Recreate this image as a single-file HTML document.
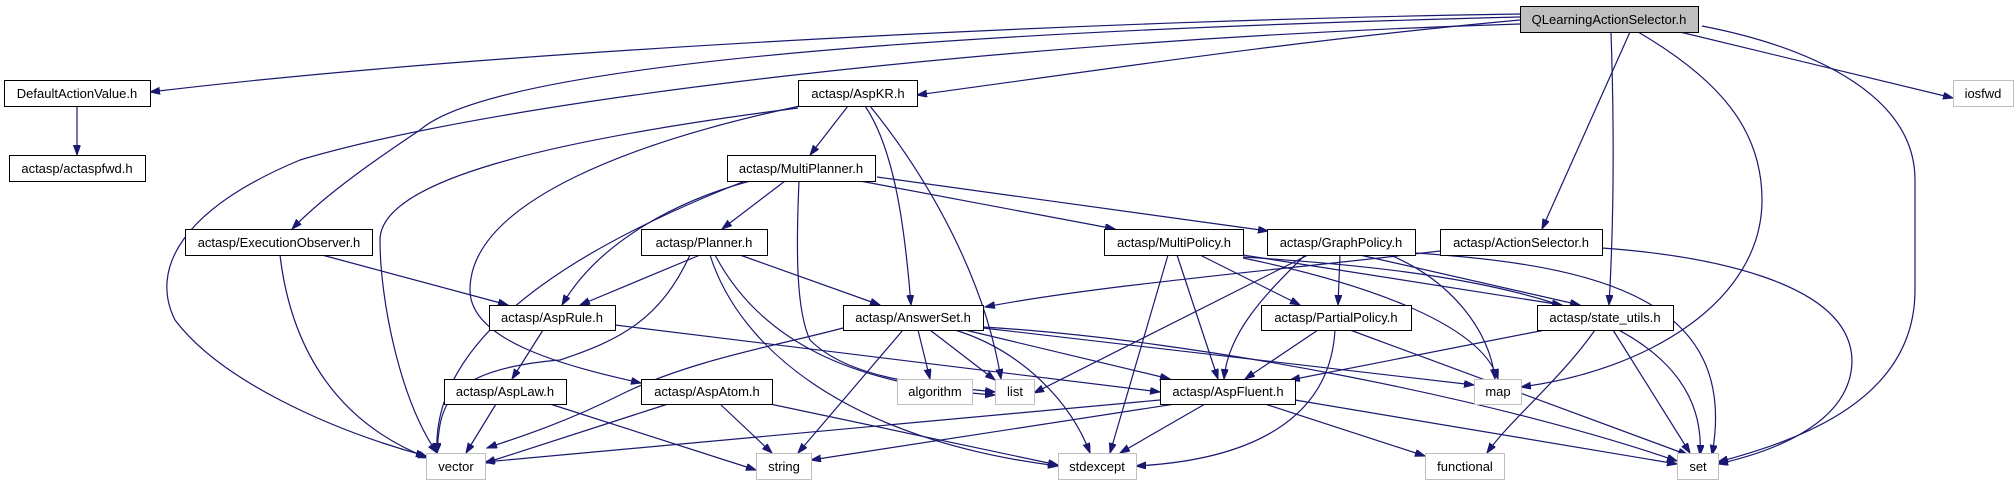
<!DOCTYPE html>
<html><head><meta charset="utf-8"><style>
html,body{margin:0;padding:0;background:#fff;}
svg{display:block;}
text{font-family:"Liberation Sans",sans-serif;font-size:13px;text-anchor:middle;fill:#000;}
.e{fill:none;stroke:#191970;stroke-width:1.2;marker-end:url(#a);}
.n{fill:#fff;stroke:#000;stroke-width:1;}
.g{fill:#fff;stroke:#bfbfbf;stroke-width:1;}
</style></head><body>
<svg width="2016" height="485" viewBox="0 0 2016 485" xmlns="http://www.w3.org/2000/svg">
<defs><marker id="a" markerUnits="userSpaceOnUse" markerWidth="11" markerHeight="8" refX="10" refY="3.5" orient="auto"><path d="M0,0 L10,3.5 L0,7 z" fill="#191970" stroke="#191970"/></marker></defs>
<!-- edges from QLearning -->
<path class="e" d="M1520,14 C1100,20 500,50 150,92"/>
<path class="e" d="M1520,17 C1000,30 500,60 420,130 C360,170 320,200 292,229"/>
<path class="e" d="M1520,20 C1300,40 1100,70 917,95"/>
<path class="e" d="M1520,24 C1000,40 500,100 300,160 C180,210 150,270 175,320 C220,380 330,430 426,456"/>
<path class="e" d="M1630,32 L1542,229"/>
<path class="e" d="M1611,32 C1614,120 1614,220 1609,305"/>
<path class="e" d="M1680,32 L1953,98"/>
<path class="e" d="M1638,32 C1720,80 1762,130 1762,200 C1762,300 1650,370 1521,387"/>
<path class="e" d="M1702,26 C1800,45 1915,90 1915,180 L1915,290 C1915,400 1800,440 1718,462"/>
<!-- ActionSelector -->
<path class="e" d="M1440,251 C1280,270 1100,285 985,307"/>
<path class="e" d="M1602,248 C1700,255 1850,280 1852,360 C1852,420 1780,450 1718,464"/>
<!-- AspKR -->
<path class="e" d="M798,108 C550,140 380,180 380,240 C380,300 400,400 437,453"/>
<path class="e" d="M800,106 C640,140 470,200 470,290 C470,340 560,365 641,383"/>
<path class="e" d="M848,106 L810,155"/>
<path class="e" d="M865,106 C895,150 905,230 911,305"/>
<path class="e" d="M870,106 C930,180 985,280 1001,379"/>
<!-- MultiPlanner -->
<path class="e" d="M785,181 L722,229"/>
<path class="e" d="M750,181 C680,200 600,240 562,305"/>
<path class="e" d="M745,181 C620,230 430,320 437,453"/>
<path class="e" d="M799,181 C796,250 796,310 810,340 C850,380 930,385 995,392"/>
<path class="e" d="M860,181 L1115,229"/>
<path class="e" d="M877,177 L1268,231"/>
<!-- ExecutionObserver -->
<path class="e" d="M322,255 L508,305"/>
<path class="e" d="M280,255 C290,340 330,420 428,458"/>
<!-- Planner -->
<path class="e" d="M700,255 L580,305"/>
<path class="e" d="M740,255 L880,305"/>
<path class="e" d="M690,255 C660,320 620,340 560,360 C440,370 440,410 437,453"/>
<path class="e" d="M715,255 C760,340 850,385 995,395"/>
<path class="e" d="M710,255 C740,350 850,440 1058,466"/>
<!-- AspRule -->
<path class="e" d="M543,330 L512,379"/>
<path class="e" d="M615,325 L1160,392"/>
<!-- AspLaw -->
<path class="e" d="M496,404 L466,453"/>
<path class="e" d="M550,404 L756,470"/>
<!-- AspAtom -->
<path class="e" d="M668,404 L485,463"/>
<path class="e" d="M720,404 L772,453"/>
<path class="e" d="M770,404 L1058,465"/>
<!-- AnswerSet -->
<path class="e" d="M843,328 C780,345 690,360 620,395 C560,425 510,440 487,448"/>
<path class="e" d="M903,330 L798,453"/>
<path class="e" d="M918,330 L930,379"/>
<path class="e" d="M930,330 L995,380"/>
<path class="e" d="M955,330 C1020,350 1070,400 1090,453"/>
<path class="e" d="M965,330 L1170,379"/>
<path class="e" d="M983,328 L1474,385"/>
<path class="e" d="M983,327 C1200,340 1500,400 1677,461"/>
<!-- MultiPolicy -->
<path class="e" d="M1168,255 L1110,453"/>
<path class="e" d="M1177,255 L1218,379"/>
<path class="e" d="M1200,255 L1300,305"/>
<path class="e" d="M1243,255 L1562,305"/>
<path class="e" d="M1243,258 C1350,280 1480,320 1498,379"/>
<path class="e" d="M1243,257 C1450,270 1710,300 1700,455"/>
<!-- GraphPolicy -->
<path class="e" d="M1308,255 L1034,393"/>
<path class="e" d="M1305,255 C1270,290 1228,330 1224,379"/>
<path class="e" d="M1340,255 L1338,305"/>
<path class="e" d="M1360,255 L1580,305"/>
<path class="e" d="M1390,255 C1450,280 1490,330 1495,379"/>
<path class="e" d="M1415,253 C1600,265 1740,300 1712,455"/>
<!-- PartialPolicy -->
<path class="e" d="M1318,330 L1245,379"/>
<path class="e" d="M1335,330 C1330,420 1250,460 1136,466"/>
<path class="e" d="M1350,330 L1688,455"/>
<!-- state_utils -->
<path class="e" d="M1545,330 L1290,380"/>
<path class="e" d="M1595,330 C1560,380 1510,420 1487,453"/>
<path class="e" d="M1613,330 L1690,453"/>
<!-- AspFluent -->
<path class="e" d="M1160,400 L485,462"/>
<path class="e" d="M1175,404 L811,460"/>
<path class="e" d="M1205,404 L1120,453"/>
<path class="e" d="M1265,404 L1425,456"/>
<path class="e" d="M1295,400 L1677,464"/>
<path class="e" d="M77,106 L77,155"/>

<!-- nodes -->
<rect x="1520.5" y="6.5" width="178" height="26" fill="#bfbfbf" stroke="#000"/><text x="1609" y="24">QLearningActionSelector.h</text>
<rect class="n" x="4.5" y="80.5" width="146" height="26"/><text x="77" y="98">DefaultActionValue.h</text>
<rect class="n" x="9.5" y="155.5" width="136" height="26"/><text x="77" y="173">actasp/actaspfwd.h</text>
<rect class="n" x="798.5" y="80.5" width="119" height="26"/><text x="858" y="98">actasp/AspKR.h</text>
<rect class="g" x="1953.5" y="80.5" width="60" height="26"/><text x="1983" y="98">iosfwd</text>
<rect class="n" x="727.5" y="155.5" width="148" height="26"/><text x="801" y="173">actasp/MultiPlanner.h</text>
<rect class="n" x="185.5" y="229.5" width="187" height="26"/><text x="279" y="247">actasp/ExecutionObserver.h</text>
<rect class="n" x="641.5" y="229.5" width="126" height="26"/><text x="704" y="247">actasp/Planner.h</text>
<rect class="n" x="1104.5" y="229.5" width="139" height="26"/><text x="1174" y="247">actasp/MultiPolicy.h</text>
<rect class="n" x="1267.5" y="229.5" width="148" height="26"/><text x="1341" y="247">actasp/GraphPolicy.h</text>
<rect class="n" x="1440.5" y="229.5" width="162" height="26"/><text x="1521" y="247">actasp/ActionSelector.h</text>
<rect class="n" x="489.5" y="305.5" width="126" height="25"/><text x="552" y="322">actasp/AspRule.h</text>
<rect class="n" x="843.5" y="305.5" width="140" height="25"/><text x="913" y="322">actasp/AnswerSet.h</text>
<rect class="n" x="1261.5" y="305.5" width="150" height="25"/><text x="1336" y="322">actasp/PartialPolicy.h</text>
<rect class="n" x="1537.5" y="305.5" width="136" height="25"/><text x="1605" y="322">actasp/state_utils.h</text>
<rect class="n" x="444.5" y="379.5" width="122" height="25"/><text x="505" y="396">actasp/AspLaw.h</text>
<rect class="n" x="641.5" y="379.5" width="131" height="25"/><text x="707" y="396">actasp/AspAtom.h</text>
<rect class="g" x="897.5" y="379.5" width="75" height="25"/><text x="935" y="396">algorithm</text>
<rect class="g" x="995.5" y="379.5" width="39" height="25"/><text x="1015" y="396">list</text>
<rect class="n" x="1160.5" y="379.5" width="135" height="25"/><text x="1228" y="396">actasp/AspFluent.h</text>
<rect class="g" x="1474.5" y="379.5" width="47" height="25"/><text x="1498" y="396">map</text>
<rect class="g" x="426.5" y="453.5" width="59" height="26"/><text x="456" y="471">vector</text>
<rect class="g" x="756.5" y="453.5" width="55" height="26"/><text x="784" y="471">string</text>
<rect class="g" x="1058.5" y="453.5" width="78" height="26"/><text x="1097" y="471">stdexcept</text>
<rect class="g" x="1425.5" y="453.5" width="79" height="26"/><text x="1465" y="471">functional</text>
<rect class="g" x="1677.5" y="453.5" width="41" height="26"/><text x="1698" y="471">set</text>
</svg>
</body></html>
